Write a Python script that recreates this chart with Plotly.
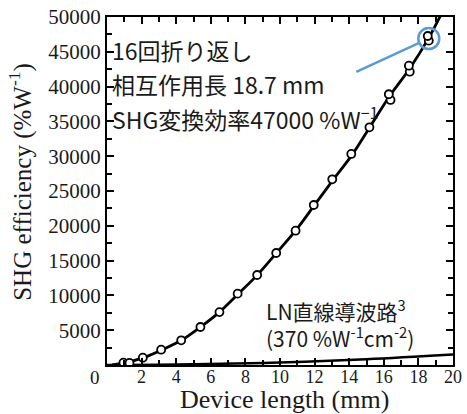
import plotly.graph_objects as go

# ---- data ----
curve_len_mm = [0.3, 1.1, 2.1, 3.2, 4.3, 5.4, 6.5, 7.6, 8.7, 9.8, 10.9, 12.0, 13.1,
                14.2, 15.2, 16.3, 17.5, 18.6, 19.3]
curve_eff = [0, 330, 1050, 2200, 3550, 5450, 7600, 10250, 12950, 16100, 19300, 23000,
             26700, 30300, 34200, 38500, 42600, 47000, 50300]

meas_len_mm = [0.95, 1.3, 2.07, 3.13, 4.29, 5.40, 6.50, 7.55, 8.68, 9.78, 10.90, 11.95,
               13.02, 14.12, 15.17, 16.29, 17.45, 18.54]
meas_eff = [330, 300, 1050, 2200, 3550, 5460, 7600, 10250, 12930, 16090, 19300, 22990,
            26680, 30320, 34150, 38900, 43000, 47270]

meas2_len_mm = [16.39, 17.5, 18.6]
meas2_eff = [38080, 42140, 46600]

ln_len_mm = [0, 5, 10, 15, 20]
ln_eff = [0, 100, 370, 830, 1500]

highlight_len_mm = 18.6
highlight_eff = 46900

x_ticks = [2, 4, 6, 8, 10, 12, 14, 16, 18, 20]
x_tick_text = ["2", "4", "6", "8", "10", "12", "14", "16", "18", "20"]
y_ticks = [5000, 10000, 15000, 20000, 25000, 30000, 35000, 40000, 45000, 50000]
y_tick_text = ["5000", "10000", "15000", "20000", "25000", "30000", "35000", "40000",
               "45000", "50000"]

ann_lines = ["16回折り返し", "相互作用長 18.7 mm", "SHG変換効率47000 %W<sup>−1</sup>"]
ln_lines = ["LN直線導波路<sup>3</sup>", "(370 %W<sup>-1</sup>cm<sup>-2</sup>)"]
x_title = "Device length (mm)"
y_title = "SHG efficiency (%W<sup>-1</sup>)"

BLUE = "#5B9BD5"
JP = "Noto Sans CJK JP"
SERIF = "Liberation Serif"
INK = "#1a1a1a"

fig = go.Figure()
fig.add_trace(go.Scatter(x=ln_len_mm, y=ln_eff, mode="lines",
                         line=dict(color="black", width=2.5, shape="spline"),
                         showlegend=False, hoverinfo="skip"))
fig.add_trace(go.Scatter(x=curve_len_mm, y=curve_eff, mode="lines",
                         line=dict(color="black", width=2.8, shape="spline", smoothing=0.8),
                         showlegend=False, hoverinfo="skip"))
fig.add_trace(go.Scatter(x=meas2_len_mm, y=meas2_eff, mode="markers",
                         marker=dict(symbol="circle", size=8, color="white",
                                     line=dict(color="black", width=1.8)),
                         showlegend=False))
fig.add_trace(go.Scatter(x=meas_len_mm, y=meas_eff, mode="markers",
                         marker=dict(symbol="circle", size=8, color="white",
                                     line=dict(color="black", width=1.8)),
                         showlegend=False))

# blue highlight circle around the 18.7 mm point
fig.add_shape(type="circle", xref="x", yref="y", xsizemode="pixel", ysizemode="pixel",
              xanchor=highlight_len_mm, yanchor=highlight_eff,
              x0=-10.5, x1=10.5, y0=-10.5, y1=10.5,
              line=dict(color=BLUE, width=2.5))
fig.add_annotation(x=highlight_len_mm, y=highlight_eff, xref="x", yref="y",
                   text="", showarrow=True, arrowhead=0, ax=-74, ay=34,
                   arrowcolor=BLUE, arrowwidth=2.5, standoff=10.5)

for i, t in enumerate(ann_lines):
    fig.add_annotation(x=0.008, y=[0.905, 0.807, 0.710][i], xref="paper", yref="paper",
                       text=t, showarrow=False, xanchor="left", yanchor="middle",
                       font=dict(family=JP, size=23, color=INK))
fig.add_annotation(x=0.455, y=0.119, xref="paper", yref="paper",
                   text="<br>".join(ln_lines), showarrow=False, align="left",
                   xanchor="left", yanchor="middle",
                   font=dict(family=JP, size=21, color=INK))

# shared corner zero label
fig.add_annotation(x=-0.036, y=-0.037, xref="paper", yref="paper", text="0",
                   showarrow=False, xanchor="center", yanchor="middle",
                   font=dict(family=SERIF, size=19, color=INK))
# axis titles
fig.add_annotation(x=0.514, y=-0.1, xref="paper", yref="paper", text=x_title,
                   showarrow=False, xanchor="center", yanchor="middle",
                   font=dict(family=SERIF, size=26, color=INK))
fig.add_annotation(x=-0.25, y=0.525, xref="paper", yref="paper", text=y_title,
                   showarrow=False, xanchor="center", yanchor="middle", textangle=-90,
                   font=dict(family=SERIF, size=25, color=INK))

fig.update_xaxes(range=[0, 20], tickmode="array", tickvals=x_ticks, ticktext=x_tick_text,
                 ticks="inside", ticklen=7, tickwidth=1.5, tickcolor="black",
                 showline=True, linecolor="black", linewidth=2, mirror="ticks",
                 showgrid=False, zeroline=False, automargin=False, ticklabelstandoff=-6,
                 minor=dict(tickmode="linear", tick0=0, dtick=1, ticks="inside",
                            ticklen=5, tickwidth=1.5, tickcolor="black", showgrid=False),
                 tickfont=dict(family=SERIF, size=18, color=INK))
fig.update_yaxes(range=[0, 50000], tickmode="array", tickvals=y_ticks, ticktext=y_tick_text,
                 ticks="inside", ticklen=7, tickwidth=1.5, tickcolor="black",
                 showline=True, linecolor="black", linewidth=2, mirror="ticks",
                 showgrid=False, zeroline=False, automargin=False,
                 minor=dict(tickmode="linear", tick0=0, dtick=2500, ticks="inside",
                            ticklen=5, tickwidth=1.5, tickcolor="black", showgrid=False),
                 tickfont=dict(family=SERIF, size=21, color=INK))

fig.update_layout(width=467, height=414, margin=dict(l=107, r=14, t=17, b=49, autoexpand=False),
                  plot_bgcolor="white", paper_bgcolor="white", showlegend=False)

fig.write_html("out.html", config={"displayModeBar": False},
               post_script="document.body.style.margin='0';")
